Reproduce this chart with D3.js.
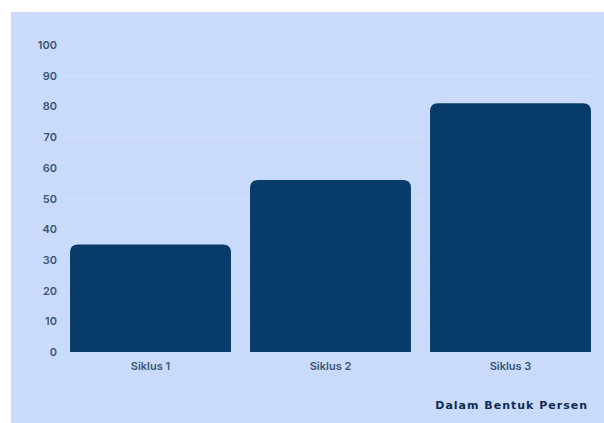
<!DOCTYPE html>
<html>
<head>
<meta charset="utf-8">
<script src="https://cdn.jsdelivr.net/npm/d3@7"></script>
<style>
  body { margin: 0; background: #ffffff; }
  svg { display: block; }
</style>
</head>
<body>
<script>
// data
var categories = ['Siklus 1', 'Siklus 2', 'Siklus 3'];
var values = [35, 56, 81];
var yTicks = [0, 10, 20, 30, 40, 50, 60, 70, 80, 90, 100];

var width = 604, height = 423;

var svg = d3.select('body').append('svg')
  .attr('width', width)
  .attr('height', height);

// light blue panel
svg.append('rect')
  .attr('x', 11).attr('y', 12)
  .attr('width', width - 11).attr('height', height - 12)
  .attr('fill', '#c9dafa');

var x = d3.scaleBand()
  .domain(categories)
  .range([60.5, 600.5])
  .paddingInner(0.106)
  .paddingOuter(0.053);

var y = d3.scaleLinear()
  .domain([0, 100])
  .range([352, 45]);

// faint grid
svg.append('g').selectAll('line')
  .data(yTicks)
  .enter().append('line')
  .attr('x1', 62).attr('x2', 592)
  .attr('y1', function(d) { return y(d); })
  .attr('y2', function(d) { return y(d); })
  .attr('stroke', '#d2e0fa')
  .attr('stroke-width', 1);

// y axis labels
var yAxis = d3.axisLeft(y).tickValues(yTicks).tickSize(0).tickPadding(0);
var gy = svg.append('g')
  .attr('transform', 'translate(57,0)')
  .call(yAxis);
gy.select('.domain').remove();
gy.selectAll('text')
  .attr('fill', '#3a5778')
  .style('font-family', 'Inter, "Open Sans", sans-serif')
  .style('font-size', '11px')
  .style('font-weight', '600');

// bars with rounded tops
var r = 8;
function barPath(d, i) {
  var x0 = x(categories[i]), w = x.bandwidth();
  var y0 = y(d), yb = y(0);
  return 'M' + x0 + ',' + yb +
    'V' + (y0 + r) +
    'Q' + x0 + ',' + y0 + ' ' + (x0 + r) + ',' + y0 +
    'H' + (x0 + w - r) +
    'Q' + (x0 + w) + ',' + y0 + ' ' + (x0 + w) + ',' + (y0 + r) +
    'V' + yb + 'Z';
}

svg.append('g').selectAll('path')
  .data(values)
  .enter().append('path')
  .attr('d', barPath)
  .attr('fill', '#073b69');

// x axis labels
var xAxis = d3.axisBottom(x).tickSize(0).tickPadding(0);
var gx = svg.append('g')
  .attr('transform', 'translate(0,362)')
  .call(xAxis);
gx.select('.domain').remove();
gx.selectAll('text')
  .attr('fill', '#3a5778')
  .style('font-family', 'Inter, "Open Sans", sans-serif')
  .style('font-size', '11px')
  .style('font-weight', '600');

// note bottom right
svg.append('text')
  .attr('x', 588).attr('y', 409)
  .attr('text-anchor', 'end')
  .attr('fill', '#0d2c52')
  .style('font-family', '"DejaVu Sans", sans-serif')
  .style('font-size', '11px')
  .style('font-weight', 'bold')
  .style('letter-spacing', '1px')
  .text('Dalam Bentuk Persen');
</script>
</body>
</html>
